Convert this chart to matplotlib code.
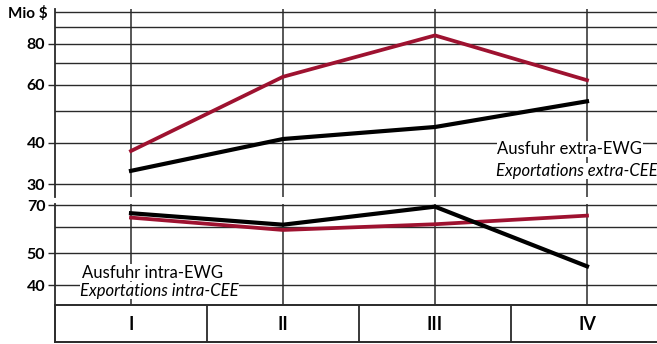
import numpy as np
import matplotlib.pyplot as plt

# quarters
quarters = ['I', 'II', 'III', 'IV']

# Ausfuhr extra-EWG (Mio $)
extra_red = [37.8, 63.5, 84.8, 62.0]
extra_black = [32.9, 41.1, 44.7, 53.5]

# Ausfuhr intra-EWG (Mio $)
intra_red = [64.1, 58.8, 61.2, 65.0]
intra_black = [66.1, 61.0, 69.2, 45.6]

upper_grid = [30, 40, 50, 60, 70, 80, 90, 100]
upper_labels = [30, 40, 60, 80]
lower_grid = [40, 50, 60, 70]
lower_labels = [40, 50, 70]

W, H = 657, 344
RED = '#9e1230'
GRID = '#2a2a2a'
plt.rcParams['font.family'] = ['Lato', 'DejaVu Sans']

fig = plt.figure(figsize=(W / 100, H / 100), dpi=100)
fig.patch.set_facecolor('white')


def rect(x0, y0, x1, y1):
    # pixel box (top-left origin) -> figure fraction
    return [x0 / W, 1 - y1 / H, (x1 - x0) / W, (y1 - y0) / H]


x = np.arange(len(quarters)) + 0.5
xmax = (W - 55) / 152


def style(ax, grid, labels, ylim):
    ax.set_yscale('log')
    ax.set_ylim(*ylim)
    ax.set_xlim(0, xmax)
    ax.set_facecolor('white')
    for g in grid:
        ax.axhline(g, color=GRID, lw=1.0, zorder=1)
    for xi in x:
        ax.axvline(xi, color=GRID, lw=1.1, zorder=1)
    ax.set_yticks(labels)
    ax.set_yticklabels([str(v) for v in labels], fontsize=11.5, fontweight='bold')
    ax.yaxis.set_minor_locator(plt.NullLocator())
    ax.tick_params(axis='y', length=5, width=1.0, pad=2, color=GRID)
    ax.set_xticks([])
    for s in ['top', 'right', 'bottom']:
        ax.spines[s].set_visible(False)
    ax.spines['left'].set_linewidth(1.3)
    ax.spines['left'].set_color(GRID)


ax1 = fig.add_axes(rect(55, 9, W, 197))
style(ax1, upper_grid, upper_labels, (27.4, 102))
ax1.plot(x, extra_red, color=RED, lw=2.7, zorder=3)
ax1.plot(x, extra_black, color='black', lw=3.0, zorder=3)
box = dict(fc='white', ec='none', pad=0.3)
ax1.text(2.91, 38.3, 'Ausfuhr extra-EWG', fontsize=12, va='center', ha='left',
         bbox=box, zorder=4)
ax1.text(2.90, 32.9, 'Exportations extra-CEE', fontsize=12, style='italic',
         va='center', ha='left', bbox=box, zorder=4)

ax2 = fig.add_axes(rect(55, 204, W, 305))
style(ax2, lower_grid, lower_labels, (34.8, 70.5))
ax2.plot(x, intra_red, color=RED, lw=2.7, zorder=3)
ax2.plot(x, intra_black, color='black', lw=3.0, zorder=3)
ax2.text(0.18, 43.6, 'Ausfuhr intra-EWG', fontsize=12, va='center', ha='left',
         bbox=box, zorder=4)
ax2.text(0.165, 38.5, 'Exportations intra-CEE', fontsize=12, style='italic',
         va='center', ha='left', bbox=box, zorder=4)

ax3 = fig.add_axes(rect(55, 305, W, 342))
ax3.set_xlim(0, xmax)
ax3.set_ylim(0, 1)
ax3.set_xticks([])
ax3.set_yticks([])
for s in ax3.spines.values():
    s.set_linewidth(1.4)
    s.set_color(GRID)
ax3.spines['right'].set_visible(False)
for b in range(1, len(quarters)):
    ax3.axvline(b, color=GRID, lw=1.3)
for xi, q in zip(x, quarters):
    ax3.text(xi, 0.47, q, fontsize=13, fontweight='bold', ha='center', va='center')

fig.text(8 / W, 1 - 14 / H, 'Mio $', fontsize=11, fontweight='bold', va='center', ha='left')

fig.savefig('out.png', dpi=100)
